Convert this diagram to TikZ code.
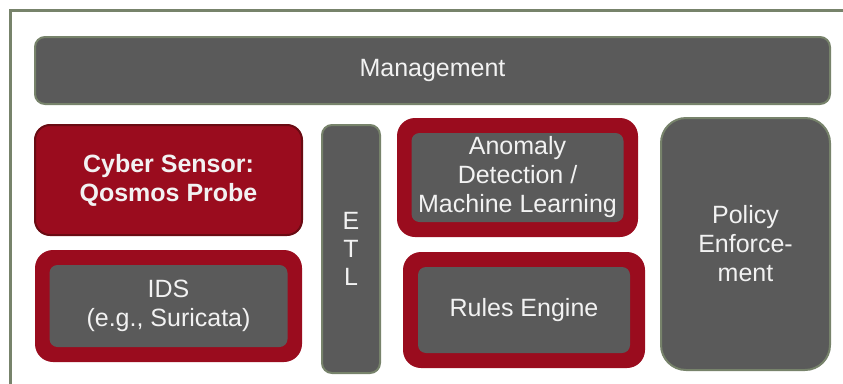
\documentclass[tikz,border=0pt]{standalone}
\usepackage{fontspec}
\setmainfont{Liberation Sans}
\definecolor{boxgrey}{HTML}{5A5A5A}
\definecolor{framegreen}{HTML}{77836B}
\definecolor{sensorred}{HTML}{9A0C1E}
\definecolor{darkred}{HTML}{6A0B13}
\definecolor{labelwhite}{HTML}{F2F2F2}

\begin{document}
\begin{tikzpicture}[x=1pt, y=-1pt,
        every node/.style={font=\fontsize{25}{29}\selectfont, text=labelwhite, align=center, inner sep=0pt},
        greybox/.style={draw=framegreen, line width=2pt, fill=boxgrey, rounded corners=10pt},
        redbox/.style={fill=sensorred, rounded corners=18pt},
        innerbox/.style={fill=boxgrey, rounded corners=8pt}]
        \useasboundingbox (0,0) rectangle (843,383);
        \draw[framegreen, line width=3pt] (10,400) -- (10,10) -- (860,10);

        \node (mgmt) [greybox, minimum width=795pt, minimum height=67pt] at (432.5,70.5) {Management};
        \node (sensor) [fill=sensorred, draw=darkred, line width=2pt, rounded corners=15pt,
            minimum width=267pt, minimum height=110pt, font=\fontsize{25}{29}\selectfont\bfseries]
            at (168.5,180) {Cyber Sensor:\\Qosmos Probe};
        \node (etl) [greybox, minimum width=58pt, minimum height=248pt,
            font=\fontsize{25}{28}\selectfont] at (351,249) {E\\T\\L};

        \node (anomaly) [redbox, minimum width=241pt, minimum height=119pt] at (517.5,177.5) {};
        \node (anomalyin) [innerbox, minimum width=212pt, minimum height=89pt] at (anomaly.center)
            {Anomaly\\Detection /\\Machine Learning};

        \node (policy) [greybox, rounded corners=25pt, minimum width=169pt, minimum height=252pt]
            at (745.5,244) {Policy\\Enforce-\\ment};

        \node (ids) [redbox, minimum width=267pt, minimum height=112pt] at (168.5,306) {};
        \node (idsin) [innerbox, minimum width=238pt, minimum height=82pt] at (ids.center)
            {IDS\\(e.g., Suricata)};

        \node (rules) [redbox, minimum width=242pt, minimum height=116pt] at (524,310) {};
        \node (rulesin) [innerbox, minimum width=212pt, minimum height=86pt] at (rules.center)
            {Rules Engine};
\end{tikzpicture}
\end{document}
